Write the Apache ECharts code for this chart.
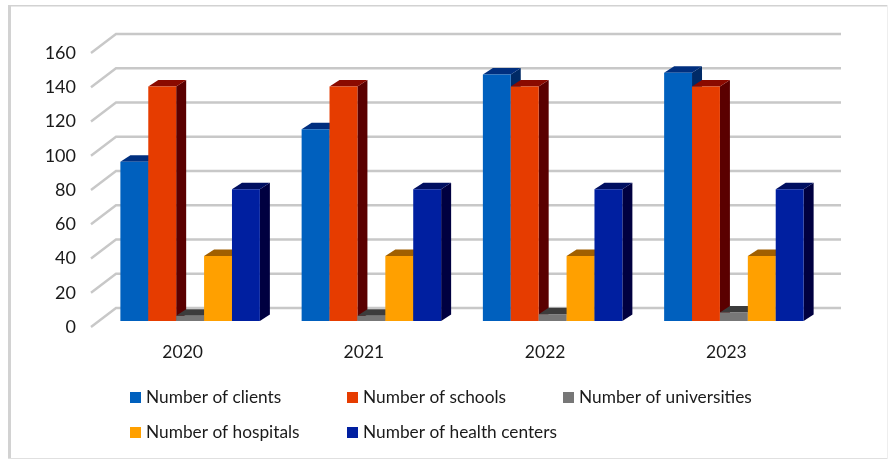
<!DOCTYPE html>
<html><head><meta charset="utf-8">
<style>html,body{margin:0;padding:0;background:#fff}#c{width:888px;height:459px}</style>
<script src="https://cdn.jsdelivr.net/npm/echarts@6/dist/echarts.min.js"></script>
</head><body><div id="c"></div>
<script>
const years = ['2020','2021','2022','2023'];
const yTicks = [0,20,40,60,80,100,120,140,160];
const clients = [93,112,144,145];
const schools = [137,137,137,137];
const universities = [3,3,4,5];
const hospitals = [38,38,38,38];
const healthCenters = [77,77,77,77];
const names = ['Number of clients','Number of schools','Number of universities','Number of hospitals','Number of health centers'];
const values = [clients,schools,universities,hospitals,healthCenters];
const fronts = ['#0060BE','#E63C00','#777777','#FFA000','#001FA0'];
const tops = ['#002F7F','#8A0A00','#3C3C3C','#A05F00','#000F60'];
const sides = ['#002A66','#5A0000','#3A3A3A','#7A4A00','#000040'];
const legendPos = [[130,389],[347,389],[563,389],[130,424],[347,424]];

const chart = echarts.init(document.getElementById('c'),null,{renderer:'canvas'});
const BW=27.9, DX=10, DY=6.5, OX=7.5, OY=-6;
function barItem(i){
  return function(params,api){
    const c=api.coord([api.value(0),0]), t=api.coord([api.value(0),api.value(1)]);
    const x0=c[0]+OX-2.5*BW+i*BW, x1=x0+BW, yb=c[1]+OY, yt=t[1]+OY;
    return {type:'group',silent:true,children:[
      {type:'polygon',shape:{points:[[x1,yt],[x1+DX,yt-DY],[x1+DX,yb-DY],[x1,yb]]},style:{fill:sides[i]}},
      {type:'polygon',shape:{points:[[x0,yt],[x0+DX,yt-DY],[x1+DX,yt-DY],[x1,yt]]},style:{fill:tops[i]}},
      {type:'rect',shape:{x:x0,y:yt,width:BW,height:yb-yt},style:{fill:fronts[i]}}
    ]};
  };
}
const wall={
  type:'custom',name:'wall',silent:true,coordinateSystem:'cartesian2d',z:1,
  data:yTicks.map(v=>[0,v]),
  renderItem(params,api){
    const y=api.coord([0,api.value(1)])[1];
    const g=params.coordSys;
    const xf=g.x-1, xb=xf+25, xe=xb+725, yb=y-19;
    return {type:'polyline',shape:{points:[[xf,y],[xb,yb],[xe,yb]]},
      style:{stroke:'#C8C8C8',lineWidth:2.4,fill:null}};
  }
};
const series=[wall].concat(names.map((n,i)=>({
  type:'custom',name:n,coordinateSystem:'cartesian2d',z:2+i,
  itemStyle:{color:fronts[i]},
  data:values[i].map((v,k)=>[k,v]),
  renderItem:barItem(i)
})));
chart.setOption({
  animation:false,
  backgroundColor:'#fff',
  grid:{left:92,top:53,width:725,height:274,containLabel:false},
  xAxis:{type:'category',data:years,axisLine:{show:false},axisTick:{show:false},
    axisLabel:{color:'#1a1a1a',fontFamily:'Lato',fontSize:17.5,margin:16}},
  yAxis:{type:'value',min:0,max:160,interval:20,axisLine:{show:false},axisTick:{show:false},splitLine:{show:false},
    axisLabel:{color:'#1a1a1a',fontFamily:'Lato',fontSize:18,margin:16,padding:[0,0,4,0]}},
  legend:names.map((n,i)=>({data:[n],left:legendPos[i][0],top:legendPos[i][1],padding:0,
    icon:'rect',itemWidth:11,itemHeight:11,itemGap:0,selectedMode:false,
    textStyle:{color:'#1a1a1a',fontFamily:'Lato',fontSize:17.3}})),
  graphic:[
    {type:'rect',silent:true,shape:{x:8,y:5,width:3,height:454},style:{fill:'#D2D2D2'}},
    {type:'rect',silent:true,shape:{x:8,y:5,width:880,height:1.5},style:{fill:'#D2D2D2'}},
    {type:'rect',silent:true,shape:{x:8,y:458,width:880,height:1},style:{fill:'#E0E0E0'}},
    {type:'rect',silent:true,shape:{x:887,y:5,width:1,height:454},style:{fill:'#EEEEEE'}}
  ],
  series
});
</script></body></html>
